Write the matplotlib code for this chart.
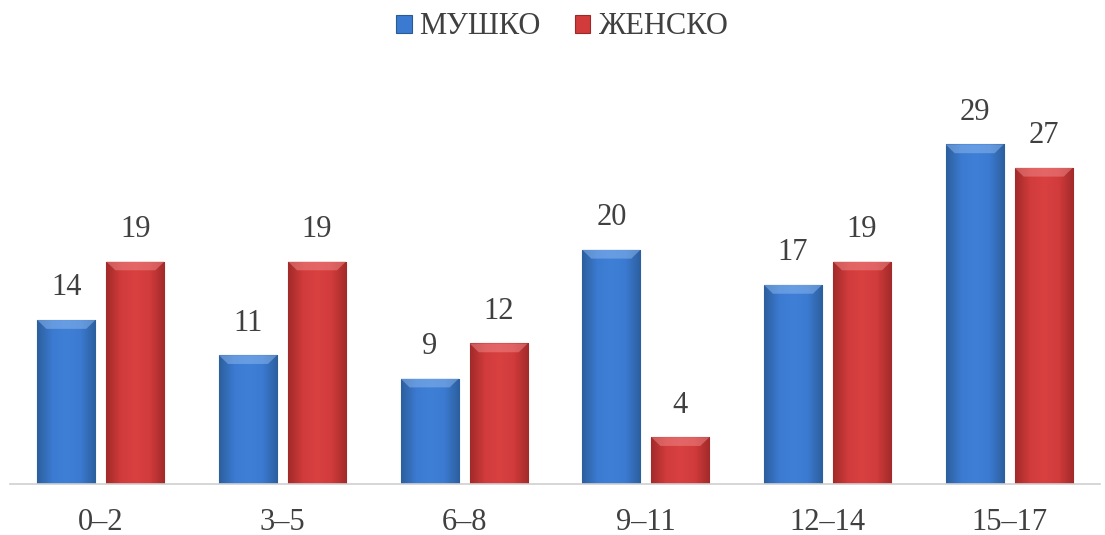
import numpy as np
import matplotlib.pyplot as plt
from matplotlib.patches import Polygon
from matplotlib.colors import LinearSegmentedColormap

plt.rcParams['font.family'] = ['Liberation Serif', 'DejaVu Serif']

groups = ['0–2', '3–5', '6–8', '9–11', '12–14', '15–17']
male = [14, 11, 9, 20, 17, 29]
female = [19, 19, 12, 4, 19, 27]
series_names = ['МУШКО', 'ЖЕНСКО']

blue_map = LinearSegmentedColormap.from_list(
    'b', ['#2c5f9e', '#3b7ad0', '#3f80d6', '#3b7ad0', '#2c5f9e'])
red_map = LinearSegmentedColormap.from_list(
    'r', ['#a32a2a', '#d13b3b', '#d94141', '#d13b3b', '#a32a2a'])
text_col = '#404040'


def shade_bars(ax, bars, cmap, top_col):
    grad = np.linspace(0, 1, 64).reshape(1, -1)
    for b in bars:
        x0, y0 = b.get_x(), b.get_y()
        w, h = b.get_width(), b.get_height()
        im = ax.imshow(grad, cmap=cmap, aspect='auto', extent=(x0, x0 + w, y0, y0 + h),
                       zorder=2, interpolation='bicubic')
        im.set_clip_path(b)
        # bevel on top of each bar
        bh, bi = 0.75, 0.05
        ax.add_patch(Polygon([(x0, y0 + h), (x0 + w, y0 + h), (x0 + w - bi, y0 + h - bh),
                              (x0 + bi, y0 + h - bh)], closed=True, color=top_col,
                             alpha=0.5, lw=0, zorder=3))


fig = plt.figure(figsize=(11.05, 5.35), dpi=100)
ax = fig.add_axes([10 / 1105, 51 / 535, 1090 / 1105, 404 / 535])

x = np.arange(len(groups))
w = 0.32
gap = 0.06
b1 = ax.bar(x - (w + gap) / 2, male, w, color='#3b7ad0', edgecolor='#2a5a94', lw=0.8,
            label=series_names[0], zorder=2)
b2 = ax.bar(x + (w + gap) / 2, female, w, color='#d13b3b', edgecolor='#9c2828', lw=0.8,
            label=series_names[1], zorder=2)
shade_bars(ax, b1, blue_map, '#8fbaf0')
shade_bars(ax, b2, red_map, '#f08a8a')

for bars, vals in ((b1, male), (b2, female)):
    for b, v in zip(bars, vals):
        ax.text(b.get_x() + b.get_width() / 2, v + 1.5, str(v), ha='center', va='bottom',
                fontsize=22, color=text_col)

ax.set_xlim(-0.5, len(groups) - 0.5)
ax.set_ylim(0, 34.5)
ax.set_xticks(x)
ax.set_xticklabels(groups, fontsize=22, color=text_col)
ax.tick_params(axis='x', length=0, pad=17)
ax.set_yticks([])
for s in ('top', 'right', 'left'):
    ax.spines[s].set_visible(False)
ax.spines['bottom'].set_color('#d0d0d0')
ax.spines['bottom'].set_linewidth(1.2)

fig.legend(loc='center', bbox_to_anchor=(562 / 1105, 1 - 27 / 535), ncol=2, frameon=False,
           fontsize=22, labelcolor=text_col, handlelength=0.52, handleheight=0.52,
           handletextpad=0.26, columnspacing=1.1)

fig.savefig('out.png', dpi=100)
